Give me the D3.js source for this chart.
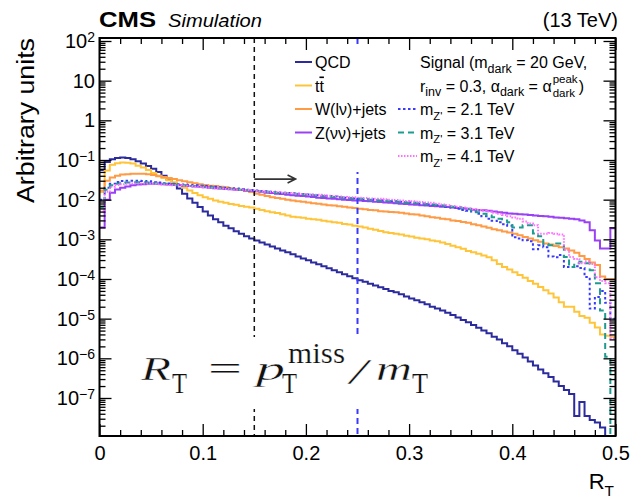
<!DOCTYPE html>
<html>
<head>
<meta charset="utf-8">
<script src="https://cdn.jsdelivr.net/npm/d3@7"></script>
<style>
  body { margin: 0; background: #fff; }
  text { font-family: "Liberation Sans", Arial, Helvetica, sans-serif; }
</style>
</head>
<body>
<svg id="chart" width="632" height="500"></svg>
<script>
// R_T bins: 100 bins of width 0.005 from 0 to 0.5
const binWidth = 0.005;
const binLow = d3.range(100).map(i => i * binWidth);

const qcd = [5.6e-2, 8.9e-2, 1.05e-1, 1.12e-1, 1.15e-1, 1.12e-1, 1.05e-1, 9.3e-2, 8.1e-2, 7.1e-2,
  6.0e-2, 5.0e-2, 4.0e-2, 3.2e-2, 2.5e-2, 1.9e-2, 1.4e-2, 1.07e-2, 8.3e-3, 6.5e-3,
  5.0e-3, 4.0e-3, 3.2e-3, 2.7e-3, 2.2e-3, 1.9e-3, 1.6e-3, 1.38e-3, 1.2e-3, 1.05e-3,
  9.3e-4, 8.3e-4, 7.4e-4, 6.6e-4, 5.9e-4, 5.2e-4, 4.7e-4, 4.2e-4, 3.7e-4, 3.3e-4,
  2.95e-4, 2.6e-4, 2.35e-4, 2.1e-4, 1.86e-4, 1.66e-4, 1.48e-4, 1.32e-4, 1.17e-4, 1.05e-4,
  9.3e-5, 8.5e-5, 7.6e-5, 6.9e-5, 6.2e-5, 5.6e-5, 5.0e-5, 4.6e-5, 4.1e-5, 3.6e-5,
  3.2e-5, 2.9e-5, 2.6e-5, 2.3e-5, 2.0e-5, 1.8e-5, 1.6e-5, 1.4e-5, 1.23e-5, 1.07e-5,
  9.3e-6, 8.1e-6, 6.9e-6, 5.9e-6, 5.0e-6, 4.3e-6, 3.5e-6, 3.0e-6, 2.4e-6, 2.0e-6,
  1.6e-6, 1.3e-6, 1.05e-6, 8.3e-7, 6.6e-7, 5.2e-7, 4.2e-7, 3.4e-7, 2.6e-7, 2.0e-7,
  1.6e-7, 1.26e-7, 3.5e-8, 7.9e-8, 3.5e-8, 2.8e-8, 2.4e-8, 1.8e-8, 0, 0];

const ttbar = [1.55e-2, 5.4e-2, 7.6e-2, 8.3e-2, 8.7e-2, 8.5e-2, 8.1e-2, 7.2e-2, 6.5e-2, 5.6e-2,
  4.7e-2, 4.0e-2, 3.5e-2, 3.1e-2, 2.75e-2, 2.35e-2, 2.0e-2, 1.7e-2, 1.48e-2, 1.29e-2,
  1.15e-2, 1.05e-2, 9.5e-3, 8.9e-3, 8.3e-3, 7.8e-3, 7.4e-3, 6.9e-3, 6.6e-3, 6.3e-3,
  5.9e-3, 5.5e-3, 5.1e-3, 4.8e-3, 4.6e-3, 4.3e-3, 4.0e-3, 3.7e-3, 3.6e-3, 3.5e-3,
  3.3e-3, 3.2e-3, 3.1e-3, 2.95e-3, 2.8e-3, 2.7e-3, 2.6e-3, 2.45e-3, 2.35e-3, 2.2e-3,
  2.1e-3, 2.0e-3, 1.86e-3, 1.74e-3, 1.62e-3, 1.5e-3, 1.45e-3, 1.38e-3, 1.32e-3, 1.23e-3,
  1.17e-3, 1.1e-3, 1.05e-3, 1.0e-3, 9.3e-4, 8.9e-4, 8.3e-4, 7.6e-4, 6.9e-4, 6.3e-4,
  5.8e-4, 5.1e-4, 4.7e-4, 4.3e-4, 3.9e-4, 3.55e-4, 2.95e-4, 2.4e-4, 2.0e-4, 1.74e-4,
  1.48e-4, 1.26e-4, 1.07e-4, 8.9e-5, 7.6e-5, 6.3e-5, 5.2e-5, 4.3e-5, 3.4e-5, 2.6e-5,
  2.0e-5, 2.0e-5, 1.5e-5, 1.17e-5, 1.05e-5, 7.9e-6, 6.0e-6, 4.0e-6, 3.7e-6, 3.5e-6];

const wjets = [1.7e-2, 3.0e-2, 3.6e-2, 4.0e-2, 4.3e-2, 4.4e-2, 4.5e-2, 4.5e-2, 4.5e-2, 4.4e-2,
  4.2e-2, 3.9e-2, 3.7e-2, 3.5e-2, 3.3e-2, 3.1e-2, 2.9e-2, 2.75e-2, 2.6e-2, 2.45e-2,
  2.35e-2, 2.25e-2, 2.2e-2, 2.1e-2, 2.05e-2, 1.95e-2, 1.86e-2, 1.78e-2, 1.66e-2, 1.55e-2,
  1.41e-2, 1.32e-2, 1.23e-2, 1.15e-2, 1.1e-2, 1.05e-2, 1.0e-2, 9.5e-3, 9.1e-3, 8.9e-3,
  8.5e-3, 8.1e-3, 7.9e-3, 7.6e-3, 7.2e-3, 7.1e-3, 6.8e-3, 6.6e-3, 6.3e-3, 6.2e-3,
  5.9e-3, 5.75e-3, 5.5e-3, 5.4e-3, 5.1e-3, 5.0e-3, 4.9e-3, 4.8e-3, 4.7e-3, 4.5e-3,
  4.3e-3, 4.2e-3, 4.0e-3, 3.8e-3, 3.6e-3, 3.5e-3, 3.3e-3, 3.2e-3, 3.0e-3, 2.9e-3,
  2.75e-3, 2.6e-3, 2.4e-3, 2.25e-3, 2.1e-3, 1.95e-3, 1.8e-3, 1.7e-3, 1.58e-3, 1.48e-3,
  1.38e-3, 1.26e-3, 1.15e-3, 1.05e-3, 9.5e-4, 8.7e-4, 7.9e-4, 7.4e-4, 6.8e-4, 6.3e-4,
  5.9e-4, 5.2e-4, 4.6e-4, 3.8e-4, 3.2e-4, 2.6e-4, 2.25e-4, 1.15e-4, 1.0e-4, 1.0e-4];

const zjets = [2.0e-3, 1.0e-2, 1.5e-2, 1.8e-2, 2.0e-2, 2.15e-2, 2.3e-2, 2.4e-2, 2.45e-2, 2.5e-2,
  2.5e-2, 2.5e-2, 2.45e-2, 2.4e-2, 2.35e-2, 2.3e-2, 2.25e-2, 2.2e-2, 2.15e-2, 2.1e-2,
  2.05e-2, 2.0e-2, 1.95e-2, 1.9e-2, 1.86e-2, 1.82e-2, 1.78e-2, 1.74e-2, 1.7e-2, 1.66e-2,
  1.62e-2, 1.58e-2, 1.5e-2, 1.48e-2, 1.41e-2, 1.38e-2, 1.32e-2, 1.29e-2, 1.26e-2, 1.23e-2,
  1.2e-2, 1.17e-2, 1.12e-2, 1.1e-2, 1.07e-2, 1.05e-2, 1.02e-2, 1.0e-2, 9.8e-3, 9.5e-3,
  9.5e-3, 9.3e-3, 9.1e-3, 8.9e-3, 8.7e-3, 8.5e-3, 8.3e-3, 8.1e-3, 7.9e-3, 7.8e-3,
  7.6e-3, 7.4e-3, 7.2e-3, 7.1e-3, 6.9e-3, 6.8e-3, 6.6e-3, 6.5e-3, 6.3e-3, 6.2e-3,
  6.0e-3, 5.9e-3, 5.6e-3, 5.5e-3, 5.4e-3, 5.25e-3, 5.0e-3, 4.8e-3, 4.7e-3, 4.5e-3,
  4.4e-3, 4.3e-3, 4.2e-3, 4.1e-3, 4.0e-3, 3.9e-3, 3.8e-3, 3.7e-3, 3.55e-3, 3.5e-3,
  3.4e-3, 3.3e-3, 3.2e-3, 3.0e-3, 2.7e-3, 1.7e-3, 9.3e-4, 5.9e-4, 5.9e-4, 1.9e-3];

const sig21 = [1.0e-2, 2.0e-2, 2.5e-2, 2.8e-2, 2.95e-2, 3.0e-2, 3.0e-2, 3.0e-2, 2.95e-2, 2.9e-2,
  2.75e-2, 2.7e-2, 2.6e-2, 2.55e-2, 2.5e-2, 2.45e-2, 2.4e-2, 2.35e-2, 2.3e-2, 2.25e-2,
  2.2e-2, 2.15e-2, 2.1e-2, 2.05e-2, 2.0e-2, 1.95e-2, 1.9e-2, 1.82e-2, 1.78e-2, 1.74e-2,
  1.7e-2, 1.66e-2, 1.62e-2, 1.58e-2, 1.55e-2, 1.5e-2, 1.48e-2, 1.45e-2, 1.41e-2, 1.38e-2,
  1.35e-2, 1.32e-2, 1.29e-2, 1.26e-2, 1.23e-2, 1.2e-2, 1.15e-2, 1.12e-2, 1.1e-2, 1.07e-2,
  1.05e-2, 1.02e-2, 1.02e-2, 1.0e-2, 9.8e-3, 9.5e-3, 9.3e-3, 9.1e-3, 8.9e-3, 8.7e-3,
  8.5e-3, 8.3e-3, 8.0e-3, 7.7e-3, 7.4e-3, 7.2e-3, 7.0e-3, 6.6e-3, 6.3e-3, 5.9e-3,
  5.5e-3, 5.25e-3, 5.0e-3, 4.4e-3, 3.8e-3, 3.3e-3, 2.95e-3, 2.7e-3, 2.4e-3, 2.2e-3,
  1.12e-3, 1.05e-3, 9.5e-4, 8.9e-4, 5.6e-4, 7.1e-4, 6.3e-4, 3.7e-4, 3.55e-4, 4.0e-4,
  2.0e-4, 2.0e-4, 2.1e-4, 1.9e-4, 1.12e-4, 1.8e-5, 3.5e-5, 5.0e-5, 2.5e-5, 1.0e-5];

const sig31 = [6.3e-3, 1.78e-2, 2.3e-2, 2.5e-2, 2.6e-2, 2.7e-2, 2.75e-2, 2.75e-2, 2.75e-2, 2.7e-2,
  2.6e-2, 2.55e-2, 2.5e-2, 2.45e-2, 2.4e-2, 2.35e-2, 2.3e-2, 2.25e-2, 2.2e-2, 2.15e-2,
  2.1e-2, 2.05e-2, 2.0e-2, 1.95e-2, 1.9e-2, 1.86e-2, 1.82e-2, 1.78e-2, 1.74e-2, 1.7e-2,
  1.66e-2, 1.62e-2, 1.58e-2, 1.55e-2, 1.5e-2, 1.48e-2, 1.45e-2, 1.41e-2, 1.38e-2, 1.35e-2,
  1.32e-2, 1.29e-2, 1.26e-2, 1.23e-2, 1.2e-2, 1.17e-2, 1.15e-2, 1.12e-2, 1.1e-2, 1.07e-2,
  1.05e-2, 1.02e-2, 1.0e-2, 9.8e-3, 9.5e-3, 9.3e-3, 9.1e-3, 8.9e-3, 8.7e-3, 8.5e-3,
  8.3e-3, 8.1e-3, 7.9e-3, 7.8e-3, 7.6e-3, 7.4e-3, 7.1e-3, 6.9e-3, 6.6e-3, 6.5e-3,
  6.2e-3, 5.75e-3, 5.25e-3, 4.8e-3, 4.4e-3, 4.0e-3, 3.6e-3, 3.3e-3, 3.0e-3, 2.7e-3,
  2.0e-3, 2.0e-3, 2.25e-3, 2.25e-3, 1.41e-3, 1.2e-3, 7.6e-4, 7.1e-4, 7.9e-4, 7.9e-4,
  3.6e-4, 2.0e-4, 2.5e-4, 2.7e-4, 2.5e-4, 1.66e-4, 7.8e-5, 1.6e-5, 1.1e-6, 0];

const sig41 = [5.0e-3, 1.58e-2, 2.1e-2, 2.35e-2, 2.45e-2, 2.5e-2, 2.55e-2, 2.55e-2, 2.55e-2, 2.55e-2,
  2.5e-2, 2.45e-2, 2.4e-2, 2.35e-2, 2.3e-2, 2.3e-2, 2.25e-2, 2.2e-2, 2.15e-2, 2.1e-2,
  2.05e-2, 2.0e-2, 1.95e-2, 1.9e-2, 1.86e-2, 1.82e-2, 1.78e-2, 1.78e-2, 1.74e-2, 1.7e-2,
  1.66e-2, 1.62e-2, 1.58e-2, 1.55e-2, 1.55e-2, 1.5e-2, 1.48e-2, 1.45e-2, 1.41e-2, 1.38e-2,
  1.35e-2, 1.32e-2, 1.32e-2, 1.29e-2, 1.26e-2, 1.23e-2, 1.2e-2, 1.17e-2, 1.15e-2, 1.15e-2,
  1.12e-2, 1.1e-2, 1.07e-2, 1.05e-2, 1.05e-2, 1.02e-2, 1.0e-2, 9.8e-3, 9.5e-3, 9.3e-3,
  9.1e-3, 8.9e-3, 8.7e-3, 8.5e-3, 8.3e-3, 7.9e-3, 7.6e-3, 7.2e-3, 6.9e-3, 6.6e-3,
  6.3e-3, 6.0e-3, 5.75e-3, 5.5e-3, 5.25e-3, 5.0e-3, 4.7e-3, 4.4e-3, 4.1e-3, 3.8e-3,
  3.55e-3, 3.3e-3, 2.8e-3, 2.5e-3, 2.25e-3, 1.38e-3, 1.38e-3, 1.45e-3, 1.38e-3, 1.32e-3,
  5.4e-4, 3.6e-4, 3.2e-4, 2.5e-4, 2.8e-4, 2.4e-4, 1.1e-4, 8.9e-5, 7.8e-5, 3.2e-6];

const xTicks = [0, 0.1, 0.2, 0.3, 0.4, 0.5];
const yTickExp = [2, 1, 0, -1, -2, -3, -4, -5, -6, -7];
const cutValues = [0.15, 0.25];

const svg = d3.select("#chart");
const yMin = 1.1e-8, yMax = 119;

const xScale = d3.scaleLinear().domain([0, 0.5]).range([99.5, 615.5]);
const yScale = d3.scaleLog().domain([yMin, yMax]).range([436, 38]);
const [plotLeft, plotRight] = xScale.range();
const [plotBottom, plotTop] = yScale.range();

svg.append("clipPath").attr("id", "plotclip")
  .append("rect").attr("x", plotLeft).attr("y", plotTop)
  .attr("width", plotRight - plotLeft).attr("height", plotBottom - plotTop);

const series = [
  { values: qcd, color: "#2b2b9e", dash: null },
  { values: ttbar, color: "#ffc53a", dash: null },
  { values: wjets, color: "#ff9a45", dash: null },
  { values: zjets, color: "#9a40f5", dash: null },
  { values: sig21, color: "#3a3aff", dash: "2.5,2.5" },
  { values: sig31, color: "#1d9c90", dash: "6,4" },
  { values: sig41, color: "#ff70ff", dash: "1.5,1.5" }
];

const histLine = d3.line()
  .x(d => xScale(d[0]))
  .y(d => d[1] > 0 ? yScale(Math.max(d[1], yMin)) : plotBottom + 3);

const plot = svg.append("g").attr("clip-path", "url(#plotclip)");

plot.selectAll("path.hist")
  .data(series)
  .join("path")
  .attr("class", "hist")
  .attr("fill", "none")
  .attr("stroke", d => d.color)
  .attr("stroke-width", 2)
  .attr("stroke-dasharray", d => d.dash)
  .attr("d", d => histLine(d.values.flatMap((v, i) => [[binLow[i], v], [binLow[i] + binWidth, v]])));

// cut lines
plot.selectAll("line.cut")
  .data(cutValues)
  .join("line")
  .attr("class", "cut")
  .attr("x1", d => xScale(d)).attr("x2", d => xScale(d))
  .attr("y1", plotTop).attr("y2", plotBottom)
  .attr("stroke", (d, i) => i === 0 ? "#111" : "#3a3aff")
  .attr("stroke-width", (d, i) => i === 0 ? 1.5 : 2)
  .attr("stroke-dasharray", (d, i) => i === 0 ? "5,4" : "6,4");

// arrow from the R_T cut
const ax0 = xScale(0.15), ax1 = xScale(0.19), ay = yScale(0.033);
svg.append("path")
  .attr("d", `M${ax0},${ay}H${ax1}M${ax1 - 8},${ay - 4}L${ax1},${ay}L${ax1 - 8},${ay + 4}`)
  .attr("fill", "none").attr("stroke", "#333").attr("stroke-width", 1.6);

// white legend / formula backgrounds
svg.append("rect").attr("x", 292).attr("y", 48).attr("width", 311).attr("height", 124).attr("fill", "#fff");
svg.append("rect").attr("x", 130).attr("y", 337).attr("width", 302).attr("height", 72).attr("fill", "#fff");

// rich text helper: segments {t, sub, sup}
function rich(sel, segs, size, subScale = 0.7) {
  let cur = 0;
  segs.forEach(s => {
    const off = s.sub ? size * 0.3 : s.sup ? -size * 0.4 : 0;
    const ts = sel.append("tspan").attr("dy", off - cur).text(s.t);
    if (s.sub || s.sup) ts.attr("font-size", size * subScale);
    if (s.bar) ts.style("text-decoration", "overline");
    cur = off;
  });
  return sel;
}

const legFont = 16;
const bkgLegend = [
  { segs: [{ t: "QCD" }], y: 62 },
  { segs: [{ t: "t" }, { t: "t", bar: true }], y: 85.5 },
  { segs: [{ t: "W(l\u03bd)+jets" }], y: 109 },
  { segs: [{ t: "Z(\u03bd\u03bd)+jets" }], y: 132.5 }
];
const sigLegend = [
  { segs: [{ t: "m" }, { t: "Z'", sub: true }, { t: " = 2.1 TeV" }], y: 109 },
  { segs: [{ t: "m" }, { t: "Z'", sub: true }, { t: " = 3.1 TeV" }], y: 132.5 },
  { segs: [{ t: "m" }, { t: "Z'", sub: true }, { t: " = 4.1 TeV" }], y: 156 }
];

bkgLegend.forEach((e, i) => {
  const s = series[i];
  svg.append("line").attr("x1", 295).attr("x2", 312).attr("y1", e.y).attr("y2", e.y)
    .attr("stroke", s.color).attr("stroke-width", 2);
  rich(svg.append("text").attr("x", 315).attr("y", e.y + 6).attr("font-size", legFont), e.segs, legFont);
});
sigLegend.forEach((e, i) => {
  const s = series[4 + i];
  svg.append("line").attr("x1", 398).attr("x2", 417).attr("y1", e.y).attr("y2", e.y)
    .attr("stroke", s.color).attr("stroke-width", 2).attr("stroke-dasharray", s.dash);
  rich(svg.append("text").attr("x", 420).attr("y", e.y + 6).attr("font-size", legFont), e.segs, legFont);
});

rich(svg.append("text").attr("x", 420).attr("y", 68).attr("font-size", legFont),
  [{ t: "Signal (m" }, { t: "dark", sub: true }, { t: " = 20 GeV," }], legFont, 0.78);
const l2 = rich(svg.append("text").attr("x", 420).attr("y", 91.5).attr("font-size", legFont),
  [{ t: "r" }, { t: "inv", sub: true }, { t: " = 0.3, \u03b1" }, { t: "dark", sub: true }, { t: " = \u03b1" }], legFont, 0.78);
const l2end = 420 + l2.node().getComputedTextLength() + 1;
const supT = svg.append("text").attr("x", l2end).attr("y", 83).attr("font-size", legFont * 0.72).text("peak");
svg.append("text").attr("x", l2end).attr("y", 97).attr("font-size", legFont * 0.72).text("dark");
svg.append("text").attr("x", l2end + supT.node().getComputedTextLength() + 1).attr("y", 91.5)
  .attr("font-size", legFont).text(")");

// formula R_T = pT^miss / mT
const fparts = [
  { t: "R", x: 141, w: 30, y: 380, s: 33, it: true },
  { t: "T", x: 172, w: 15, y: 393, s: 29 },
  { t: "=", x: 208, w: 34, y: 380, s: 33 },
  { t: "p", x: 256, w: 29, y: 380, s: 33, it: true },
  { t: "T", x: 282, w: 15, y: 393, s: 29 },
  { t: "miss", x: 288, w: 57, y: 363, s: 29 },
  { t: "/", x: 350, w: 17, y: 384, s: 36, it: true },
  { t: "m", x: 376, w: 36, y: 380, s: 33, it: true },
  { t: "T", x: 412, w: 16, y: 393, s: 29 }
];
fparts.forEach(p => {
  svg.append("text").attr("x", p.x).attr("y", p.y).attr("font-size", p.s)
    .style("font-family", "'Liberation Serif', 'Times New Roman', serif")
    .attr("font-style", p.it ? "italic" : "normal")
    .attr("fill", "#111")
    .attr("stroke", "#fff").attr("stroke-width", p.it ? 0.4 : 0.2)
    .attr("textLength", p.w).attr("lengthAdjust", "spacingAndGlyphs")
    .text(p.t);
});

// axes
const yMajor = yTickExp.map(e => Math.pow(10, e));
const yMinor = [];
for (let e = -8; e <= 2; e++) for (let m = 2; m <= 9; m++) {
  const v = m * Math.pow(10, e);
  if (v > yMin && v < yMax) yMinor.push(v);
}
const xMinor = d3.range(0, 0.5001, 0.02).filter(v => Math.abs(v * 10 - Math.round(v * 10)) > 1e-6);

function styleAxis(g) {
  g.select(".domain").remove();
  g.selectAll(".tick line").attr("stroke", "#000").attr("stroke-width", 1.3);
}
const fmtX = d => d === 0 ? "0" : d3.format(".1f")(d);

svg.append("g").attr("transform", `translate(0,${plotBottom})`)
  .call(d3.axisBottom(xScale).tickValues(xTicks).tickSize(-12).tickPadding(10).tickFormat(fmtX))
  .call(styleAxis)
  .call(g => g.selectAll("text").attr("font-size", 20).attr("fill", "#000")
    .style("font-family", "'Liberation Sans', Arial, sans-serif"));
svg.append("g").attr("transform", `translate(0,${plotBottom})`)
  .call(d3.axisBottom(xScale).tickValues(xMinor).tickSize(-6).tickFormat(""))
  .call(styleAxis);
svg.append("g").attr("transform", `translate(0,${plotTop})`)
  .call(d3.axisTop(xScale).tickValues(xTicks).tickSize(-12).tickFormat(""))
  .call(styleAxis);
svg.append("g").attr("transform", `translate(0,${plotTop})`)
  .call(d3.axisTop(xScale).tickValues(xMinor).tickSize(-6).tickFormat(""))
  .call(styleAxis);
svg.append("g").attr("transform", `translate(${plotLeft},0)`)
  .call(d3.axisLeft(yScale).tickValues(yMajor).tickSize(-12).tickFormat(""))
  .call(styleAxis);
svg.append("g").attr("transform", `translate(${plotLeft},0)`)
  .call(d3.axisLeft(yScale).tickValues(yMinor).tickSize(-6).tickFormat(""))
  .call(styleAxis);
svg.append("g").attr("transform", `translate(${plotRight},0)`)
  .call(d3.axisRight(yScale).tickValues(yMajor).tickSize(-12).tickFormat(""))
  .call(styleAxis);
svg.append("g").attr("transform", `translate(${plotRight},0)`)
  .call(d3.axisRight(yScale).tickValues(yMinor).tickSize(-6).tickFormat(""))
  .call(styleAxis);

// y tick labels
yTickExp.forEach(e => {
  const t = svg.append("text").attr("x", 95).attr("y", yScale(Math.pow(10, e)) + 7)
    .attr("text-anchor", "end").attr("font-size", 20);
  if (e === 0) t.text("1");
  else if (e === 1) t.text("10");
  else {
    t.append("tspan").text("10");
    t.append("tspan").attr("dy", -6).attr("font-size", 14).text(e < 0 ? "\u2212" + (-e) : e);
  }
});

// frame
svg.append("rect").attr("x", plotLeft).attr("y", plotTop)
  .attr("width", plotRight - plotLeft).attr("height", plotBottom - plotTop)
  .attr("fill", "none").attr("stroke", "#000").attr("stroke-width", 2);

// titles
svg.append("text").attr("x", 99).attr("y", 27).attr("font-size", 22).attr("font-weight", "bold")
  .attr("textLength", 57).attr("lengthAdjust", "spacingAndGlyphs").text("CMS");
svg.append("text").attr("x", 168).attr("y", 27).attr("font-size", 18).attr("font-style", "italic")
  .attr("textLength", 94).attr("lengthAdjust", "spacingAndGlyphs").text("Simulation");
svg.append("text").attr("x", 618).attr("y", 27).attr("font-size", 20).attr("text-anchor", "end")
  .text("(13 TeV)");

svg.append("text").attr("transform", "translate(34,38) rotate(-90)")
  .attr("text-anchor", "end").attr("font-size", 23)
  .attr("textLength", 165).attr("lengthAdjust", "spacingAndGlyphs").text("Arbitrary units");

rich(svg.append("text").attr("x", 614).attr("y", 489).attr("text-anchor", "end").attr("font-size", 22),
  [{ t: "R" }, { t: "T", sub: true }], 22);
</script>
</body>
</html>
